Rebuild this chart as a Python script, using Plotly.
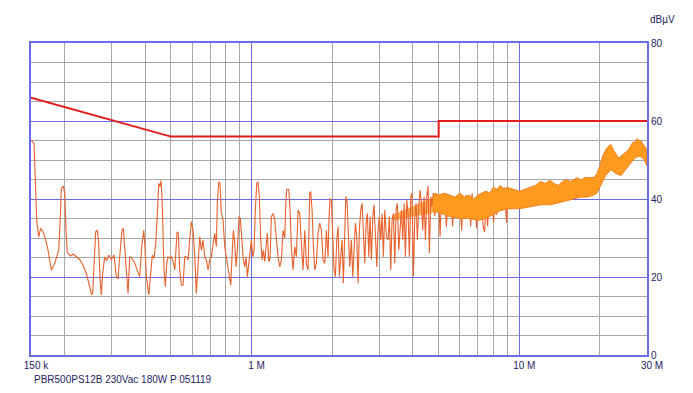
import math
import plotly.graph_objects as go

# ---------------- data ----------------
# Measured conducted-emission trace, (frequency MHz, level dBuV)
scan_150k_1M = [
    (0.1500, 55.1), (0.1539, 54.3), (0.1557, 44.9), (0.1575, 34.6), (0.1603, 30.3), (0.1630, 32.5),
    (0.1663, 31.6), (0.1697, 29.9), (0.1736, 26.9), (0.1787, 21.8), (0.1840, 23.5), (0.1904, 26.9),
    (0.1930, 35.5), (0.1947, 42.7), (0.1981, 43.3), (0.2005, 41.5), (0.2027, 32.0), (0.2050, 26.2),
    (0.2111, 25.4), (0.2158, 25.9), (0.2215, 25.2), (0.2280, 24.5), (0.2346, 23.1), (0.2414, 20.9),
    (0.2485, 17.5), (0.2520, 15.6), (0.2550, 15.8), (0.2579, 23.5), (0.2617, 31.6), (0.2653, 32.0),
    (0.2685, 28.6), (0.2715, 20.1), (0.2746, 15.4), (0.2779, 20.9), (0.2828, 25.2), (0.2877, 24.2),
    (0.2927, 25.6), (0.2993, 24.5), (0.3063, 25.6), (0.3124, 20.1), (0.3170, 19.5), (0.3217, 25.2),
    (0.3282, 32.0), (0.3319, 32.5), (0.3359, 27.8), (0.3406, 20.1), (0.3456, 15.8), (0.3507, 25.2),
    (0.3576, 24.8), (0.3661, 23.5), (0.3744, 21.8), (0.3821, 20.1), (0.3898, 28.6), (0.3956, 32.0),
    (0.3990, 28.6), (0.4045, 20.1), (0.4130, 15.4), (0.4201, 20.9), (0.4259, 25.6), (0.4322, 24.8),
    (0.4386, 28.6), (0.4447, 36.3), (0.4501, 44.0), (0.4551, 43.2), (0.4590, 44.7), (0.4629, 40.6),
    (0.4670, 32.0), (0.4710, 21.8), (0.4763, 17.5), (0.4821, 23.5), (0.4875, 25.2), (0.4946, 24.8),
    (0.5016, 25.2), (0.5090, 24.0), (0.5165, 21.8), (0.5210, 25.2), (0.5268, 31.6), (0.5327, 31.2),
    (0.5391, 21.8), (0.5466, 17.9), (0.5547, 17.9), (0.5629, 25.2), (0.5707, 25.2), (0.5790, 24.4),
    (0.5875, 29.5), (0.5957, 34.2), (0.6045, 32.0), (0.6135, 25.2), (0.6219, 15.8), (0.6310, 23.5),
    (0.6403, 30.3), (0.6493, 26.9), (0.6589, 29.5), (0.6686, 25.2), (0.6778, 24.4), (0.6878, 21.8),
    (0.6979, 24.4), (0.7075, 25.2), (0.7180, 28.2), (0.7286, 31.2), (0.7387, 27.8), (0.7450, 38.9),
    (0.7540, 44.4), (0.7624, 44.0), (0.7711, 36.3), (0.7825, 34.6), (0.7940, 27.8), (0.8050, 25.2),
    (0.8168, 21.8), (0.8288, 20.1), (0.8359, 17.9), (0.8454, 25.2), (0.8550, 32.0), (0.8654, 28.6),
    (0.8750, 22.6), (0.8849, 26.9), (0.8978, 35.5), (0.9079, 35.0), (0.9214, 29.5), (0.9318, 24.4),
    (0.9431, 22.6), (0.9536, 25.2), (0.9644, 20.1), (0.9761, 23.5), (0.9869, 26.1), (0.9982, 29.5),
]

scan_1M_5M = [
    (1.0102, 25.2), (1.0216, 26.9), (1.0331, 37.2), (1.0457, 44.0), (1.0573, 44.4), (1.0692, 40.6),
    (1.0821, 29.5), (1.0943, 24.4), (1.1067, 26.9), (1.1202, 23.9), (1.1357, 28.6), (1.1454, 31.2),
    (1.1593, 23.9), (1.1722, 24.8), (1.1856, 35.5), (1.2031, 36.3), (1.2208, 34.6), (1.2377, 29.5),
    (1.2558, 25.2), (1.2743, 22.6), (1.2921, 24.4), (1.3111, 32.0), (1.3305, 30.0), (1.3419, 38.9),
    (1.3535, 42.5), (1.3770, 42.5), (1.3923, 37.2), (1.4082, 27.8), (1.4289, 21.8), (1.4500, 27.8),
    (1.4701, 25.2), (1.4916, 37.2), (1.5135, 36.3), (1.5347, 28.6), (1.5573, 21.8), (1.5803, 32.0),
    (1.6022, 23.5), (1.6256, 21.8), (1.6495, 41.5), (1.6637, 41.9), (1.6825, 37.2), (1.7016, 27.8),
    (1.7222, 21.8), (1.7461, 23.5), (1.7716, 31.2), (1.7977, 33.8), (1.8228, 32.0), (1.8497, 24.4),
    (1.8770, 23.5), (1.9030, 32.0), (1.9308, 25.2), (1.9474, 35.5), (1.9643, 40.2), (1.9866, 39.7),
    (2.0105, 32.0), (2.0331, 21.8), (2.0561, 20.1), (2.0811, 29.5), (2.1042, 32.9), (2.1278, 20.1),
    (2.1536, 25.2), (2.1780, 29.5), (2.2026, 18.4), (2.2294, 32.0), (2.2486, 40.6), (2.2736, 39.3),
    (2.2993, 32.0), (2.3270, 22.6), (2.3595, 29.5), (2.3880, 20.1), (2.4148, 26.9), (2.4421, 33.8),
    (2.4718, 30.3), (2.4993, 18.4), (2.5273, 32.0), (2.5579, 37.2), (2.5870, 38.9), (2.6162, 32.0),
    (2.6480, 23.5), (2.6775, 33.8), (2.7078, 36.3), (2.7406, 25.2), (2.7711, 35.5), (2.8026, 24.4),
    (2.8364, 35.5), (2.8683, 38.5), (2.9007, 32.0), (2.9359, 22.6), (2.9686, 32.0), (3.0019, 35.5),
    (3.0382, 29.5), (3.0726, 36.3), (3.1073, 25.2), (3.1451, 37.2), (3.1887, 30.3), (3.2353, 29.5),
    (3.2715, 35.5), (3.3111, 21.8), (3.3487, 34.6), (3.3865, 36.3), (3.4277, 23.5), (3.4659, 37.2),
    (3.5050, 38.9), (3.5475, 26.9), (3.5870, 32.0), (3.6278, 37.2), (3.6716, 29.5), (3.7128, 38.9),
    (3.7548, 25.2), (3.8004, 39.7), (3.8427, 36.3), (3.8858, 25.2), (3.9328, 40.6), (3.9773, 41.5),
    (4.0223, 20.1), (4.0712, 35.5), (4.1165, 38.9), (4.1630, 29.5), (4.2135, 38.0), (4.2605, 42.3),
    (4.3089, 38.9), (4.3609, 32.0), (4.4099, 40.6), (4.4597, 29.5), (4.5139, 40.6), (4.5642, 43.3),
    (4.6153, 26.1), (4.6712, 40.6), (4.7241, 38.0), (4.7775, 41.5), (4.8356, 35.5), (4.8894, 41.5),
    (4.9447, 38.0), (5.0046, 40.6), (5.0604, 30.3), (5.1179, 40.6), (5.1934, 37.2), (5.2700, 40.6),
    (5.3430, 32.9), (5.4211, 40.6),
]

scan_5M_10M = [
    (5.4915, 36.0), (5.5632, 41.0), (5.6355, 33.0), (5.7084, 40.5), (5.7830, 36.0), (5.8575, 41.0),
    (5.9337, 35.0), (6.0105, 40.0), (6.0891, 32.0), (6.1685, 40.5), (6.2485, 36.0), (6.3292, 41.0),
    (6.4122, 35.0), (6.4941, 40.0), (6.5796, 33.0), (6.6645, 41.5), (6.7518, 35.5), (6.8390, 40.0),
    (6.9275, 32.5), (7.0174, 40.5), (7.1389, 35.0), (7.2323, 40.0), (7.3266, 33.0), (7.4217, 31.5),
    (7.5174, 39.0), (7.6161, 33.0), (7.7133, 41.0), (7.8149, 36.0), (7.9158, 42.0), (8.0194, 34.0),
    (8.1230, 41.5), (8.2282, 36.0), (8.3349, 42.5), (8.4432, 37.0), (8.5534, 43.0), (8.6646, 37.0),
    (8.7766, 43.0), (8.8913, 36.0), (8.9674, 34.0), (9.0837, 42.0), (9.2018, 37.5), (9.3218, 42.5),
    (9.4430, 38.0), (9.5651, 42.0), (9.6900, 37.5), (9.8150, 42.0), (9.9428, 38.0), (10.071, 41.5),
]

# Partly filled transition zone of the scan (MHz, dBuV)
trans_upper = [(3.4, 36.0), (3.8, 37.5), (4.1, 38.5), (4.4, 39.5), (4.8, 40.5)]
trans_lower = [(3.4, 34.5), (3.8, 35.0), (4.1, 35.5), (4.4, 36.0), (4.8, 36.5)]

# Envelope of the dense high-frequency part of the scan (MHz, dBuV)
env_upper = [
    (4.75, 40.0), (4.85, 41.5), (5.0, 41.0),
    (5.25, 41.5), (5.5, 41.0), (5.75, 40.5), (6.0, 41.5), (6.25, 40.5), (6.5, 41.0), (6.75, 40.0),
    (7.0, 41.0), (7.25, 41.5), (7.5, 42.0), (7.75, 41.5),
    (8.0, 43.0), (8.25, 42.5), (8.5, 43.5), (8.75, 42.5), (9.0, 43.0), (9.5, 42.5), (10.0, 42.0),
    (10.5, 42.5), (11.0, 43.0), (11.5, 43.5), (12.0, 44.5), (12.5, 44.0), (13.0, 44.8), (13.5, 44.0),
    (14.0, 43.5), (14.5, 44.5), (15.0, 45.0), (15.5, 44.5), (16.0, 45.0), (16.5, 45.5), (17.0, 44.8),
    (17.5, 45.5), (18.0, 45.5), (18.5, 45.5), (19.0, 45.5), (19.5, 46.5), (20.0, 48.5), (20.5, 51.0),
    (21.0, 52.5), (21.5, 53.5), (22.0, 54.0), (22.5, 52.5), (23.0, 51.5), (23.5, 50.5), (24.0, 51.0),
    (24.5, 51.5), (25.0, 52.0), (25.5, 52.5), (26.0, 53.5), (26.5, 54.5), (27.0, 54.5), (27.5, 55.5),
    (28.0, 55.0), (28.5, 55.0), (29.0, 54.0), (29.5, 53.5), (30.0, 52.5),
]
env_lower = [
    (4.75, 37.0), (5.0, 36.5), (5.5, 35.5),
    (6.0, 35.0), (6.5, 35.0), (7.0, 34.5), (7.5, 35.0),
    (8.0, 36.0), (8.5, 37.0), (9.0, 37.5), (9.5, 37.5), (10.0, 37.5), (11.0, 38.0), (12.0, 38.5),
    (13.0, 38.5), (14.0, 39.0), (15.0, 39.5), (16.0, 40.0), (17.0, 40.5), (18.0, 40.5), (19.0, 41.0),
    (19.5, 41.5), (20.0, 43.0), (20.5, 44.5), (21.0, 46.0), (22.0, 47.5), (23.0, 46.5), (24.0, 46.0),
    (25.0, 47.5), (26.0, 49.0), (27.0, 50.5), (28.0, 51.0), (29.0, 50.5), (30.0, 48.5),
]

# Limit line (EN 55022 class B QP style)
limit_freq = [0.15, 0.5, 5.0, 5.0, 30.0]
limit_level = [66.0, 56.0, 56.0, 60.0, 60.0]

x_tick_vals = [0.15, 1, 10, 30]
x_tick_text = ["150 k", "1 M", "10 M", "30 M"]
x_minor_vals = [0.2, 0.3, 0.4, 0.5, 0.6, 0.7, 0.8, 0.9, 2, 3, 4, 5, 6, 7, 8, 9, 20]
y_tick_vals = [0, 20, 40, 60, 80]

caption = "PBR500PS12B 230Vac 180W P 051119"
unit_label = "dBµV"

# ---------------- styling ----------------
BLUE = "#6B6BE6"
GRAY = "#A8A8A8"
TXT = "#1E2262"
TRACE = "#E8602C"
BAND = "#FF9A1E"
LIMIT = "#E41B1B"
FONT = "Liberation Sans, Arial, sans-serif"


def polygon(upper, lower):
    xs = [p[0] for p in upper] + [p[0] for p in reversed(lower)]
    ys = [p[1] for p in upper] + [p[1] for p in reversed(lower)]
    return xs, ys


scan = scan_150k_1M + scan_1M_5M + scan_5M_10M
scan_f = [p[0] for p in scan]
scan_v = [p[1] for p in scan]

trans_f, trans_v = polygon(trans_upper, trans_lower)
band_f, band_v = polygon(env_upper, env_lower)

fig = go.Figure()

fig.add_trace(go.Scatter(
    x=trans_f, y=trans_v, mode="lines", fill="toself",
    fillcolor="rgba(255,154,30,0.75)", line=dict(width=0),
    hoverinfo="skip",
))
fig.add_trace(go.Scatter(
    x=scan_f, y=scan_v, mode="lines",
    line=dict(color=TRACE, width=1.1),
))
fig.add_trace(go.Scatter(
    x=band_f, y=band_v, mode="lines", fill="toself",
    fillcolor=BAND, line=dict(color="#F08226", width=1),
    hoverinfo="skip",
))
fig.add_trace(go.Scatter(
    x=limit_freq, y=limit_level, mode="lines",
    line=dict(color=LIMIT, width=2),
))

fig.update_layout(
    width=693, height=393,
    margin=dict(l=31, r=46, t=43, b=38),
    paper_bgcolor="white", plot_bgcolor="white",
    showlegend=False,
    font=dict(family=FONT, size=10, color=TXT),
)

fig.update_xaxes(
    type="log",
    range=[math.log10(0.15), math.log10(30)],
    tickmode="array", tickvals=x_tick_vals, ticktext=x_tick_text,
    ticks="", ticklabelshift=5,
    showgrid=True, gridcolor=BLUE, gridwidth=1,
    minor=dict(tickmode="array", tickvals=x_minor_vals, showgrid=True, gridcolor=GRAY, gridwidth=1, ticks=""),
    showline=True, linecolor=BLUE, linewidth=2, mirror=True,
    zeroline=False,
    tickfont=dict(family=FONT, size=10, color=TXT),
)
fig.update_yaxes(
    side="right",
    range=[0, 80],
    tickmode="array", tickvals=y_tick_vals,
    ticks="",
    showgrid=True, gridcolor=BLUE, gridwidth=1,
    minor=dict(dtick=5, tick0=0, showgrid=True, gridcolor=GRAY, gridwidth=1, ticks=""),
    showline=True, linecolor=BLUE, linewidth=2, mirror=True,
    zeroline=False,
    tickfont=dict(family=FONT, size=10, color=TXT),
)

fig.add_annotation(
    text=unit_label, xref="paper", yref="paper", x=1, y=1,
    xanchor="left", yanchor="middle", xshift=1, yshift=24,
    showarrow=False, font=dict(family=FONT, size=10, color=TXT),
)
fig.add_annotation(
    text=caption, xref="paper", yref="paper", x=0, y=0,
    xanchor="left", yanchor="middle", xshift=1, yshift=-24,
    showarrow=False, font=dict(family=FONT, size=10, color=TXT),
)

fig.write_html(
    "out.html",
    config={"displayModeBar": False},
    post_script="document.body.style.margin='0';document.body.style.overflow='hidden';",
)
